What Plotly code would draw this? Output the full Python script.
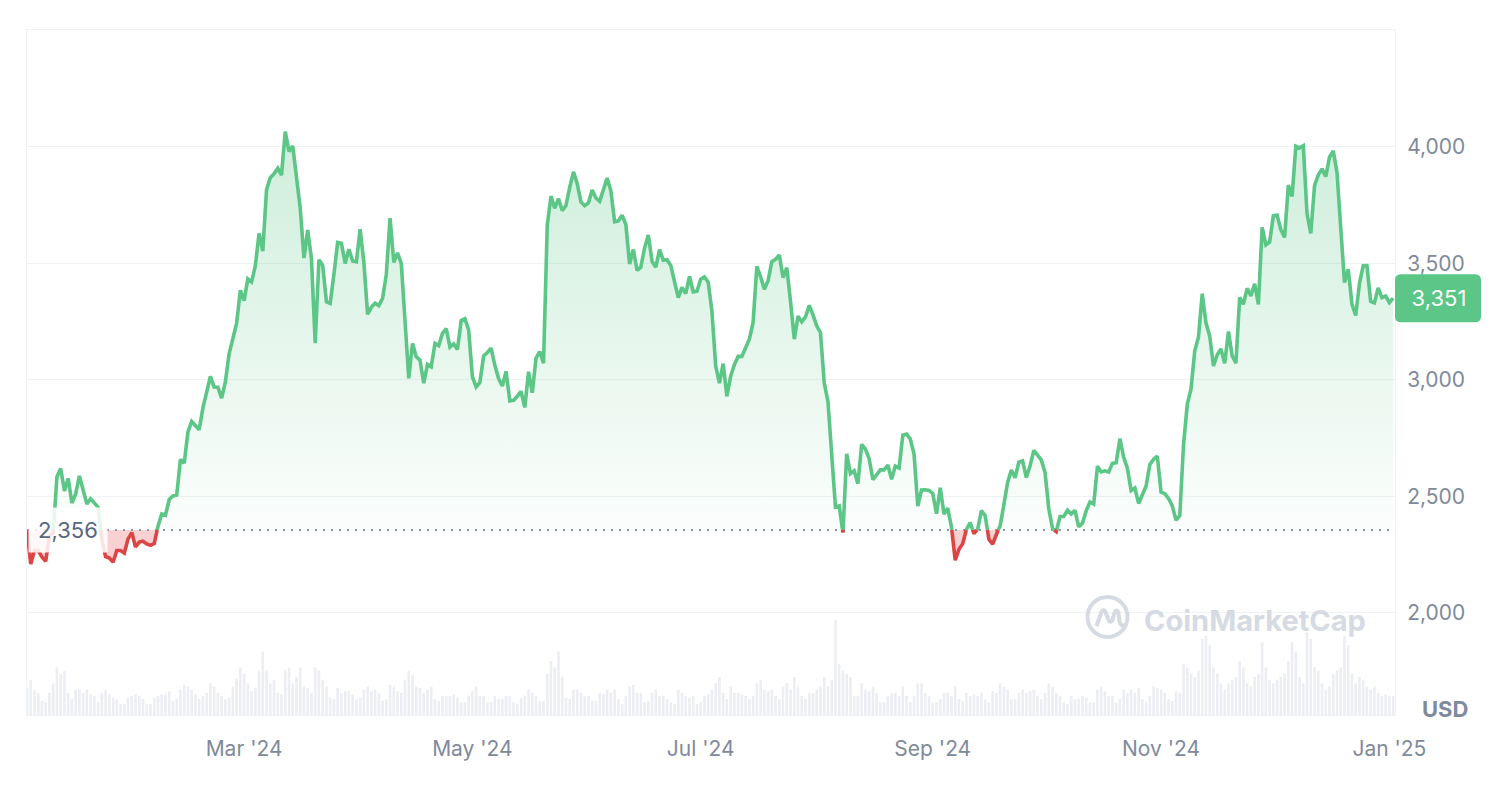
import numpy as np
import pandas as pd
import plotly.graph_objects as go

# ---------------- data (daily close, USD) ----------------
close_jan = [2356, 2210, 2269, 2268, 2240, 2222, 2331, 2344, 2585, 2620,
             2524, 2577, 2472, 2511, 2588, 2528, 2468, 2490, 2470, 2454,
             2311, 2242, 2236, 2218, 2268, 2268, 2257, 2318, 2345, 2283]
close_feb = [2304, 2308, 2296, 2290, 2298, 2372, 2425, 2420, 2487, 2502,
             2506, 2659, 2643, 2777, 2822, 2804, 2786, 2880, 2944, 3015,
             2970, 2969, 2922, 2992, 3112, 3178, 3243, 3385, 3340]
close_mar = [3434, 3421, 3489, 3629, 3553, 3817, 3868, 3885, 3909, 3879,
             4066, 3981, 4004, 3883, 3737, 3523, 3644, 3520, 3158, 3516,
             3492, 3336, 3329, 3454, 3590, 3587, 3500, 3561, 3511, 3507, 3647]
close_apr = [3505, 3282, 3312, 3330, 3319, 3350, 3453, 3695, 3505, 3545,
             3500, 3240, 3007, 3157, 3100, 3085, 2986, 3067, 3057, 3157,
             3148, 3200, 3220, 3141, 3155, 3131, 3255, 3263, 3215, 3013]
close_may = [2970, 2989, 3103, 3118, 3137, 3063, 3006, 2974, 3036, 2910,
             2913, 2930, 2951, 2882, 3035, 2945, 3094, 3122, 3072, 3664,
             3789, 3737, 3778, 3727, 3749, 3826, 3893, 3843, 3764, 3748, 3760]
close_jun = [3815, 3781, 3767, 3812, 3866, 3812, 3679, 3683, 3707, 3667,
             3498, 3560, 3470, 3484, 3566, 3622, 3509, 3484, 3559, 3514,
             3516, 3491, 3419, 3353, 3397, 3371, 3445, 3378, 3381, 3432]
close_jul = [3442, 3420, 3294, 3060, 2986, 3070, 2930, 3016, 3066, 3101,
             3101, 3134, 3175, 3247, 3488, 3443, 3389, 3426, 3508, 3518,
             3536, 3439, 3482, 3336, 3175, 3274, 3249, 3271, 3320, 3279, 3232]
close_aug = [3203, 2988, 2906, 2688, 2455, 2460, 2345, 2683, 2598, 2610,
             2555, 2723, 2703, 2662, 2572, 2594, 2614, 2614, 2635, 2574,
             2630, 2622, 2763, 2768, 2746, 2682, 2459, 2528, 2529, 2526, 2513]
close_sep = [2426, 2537, 2424, 2450, 2368, 2226, 2273, 2297, 2359, 2388,
             2340, 2360, 2439, 2417, 2316, 2295, 2341, 2373, 2465, 2560,
             2613, 2580, 2647, 2653, 2581, 2632, 2698, 2676, 2657, 2603]
close_oct = [2447, 2362, 2349, 2414, 2414, 2441, 2425, 2440, 2370, 2385,
             2439, 2476, 2467, 2630, 2605, 2610, 2605, 2642, 2645, 2748,
             2668, 2621, 2525, 2536, 2470, 2505, 2545, 2637, 2660, 2673, 2518]
close_nov = [2512, 2491, 2459, 2398, 2418, 2722, 2895, 2961, 3125, 3185,
             3370, 3244, 3188, 3060, 3108, 3133, 3071, 3208, 3103, 3072,
             3355, 3325, 3393, 3361, 3413, 3324, 3655, 3580, 3592, 3705]
close_dec = [3708, 3645, 3612, 3836, 3788, 4003, 3996, 4005, 3713, 3629,
             3834, 3880, 3906, 3873, 3956, 3983, 3891, 3626, 3418, 3475,
             3325, 3277, 3414, 3490, 3491, 3337, 3331, 3395, 3353, 3360, 3332]
close_jan25 = [3351]

# daily volume, billions USD
vol_jan = [17, 22, 16, 14, 9, 8, 14, 20, 30, 26, 28, 14, 10, 16, 16, 14, 16, 13, 12, 8,
           14, 16, 13, 11, 10, 7, 7, 11, 12, 13]
vol_feb = [12, 10, 7, 7, 11, 12, 13, 13, 15, 9, 10, 16, 19, 18, 16, 13, 10, 12, 14, 20,
           18, 14, 12, 10, 11, 18, 23, 30, 26]
vol_mar = [20, 15, 17, 28, 40, 28, 20, 22, 14, 13, 28, 30, 20, 24, 30, 18, 17, 14, 30, 28,
           22, 18, 11, 10, 17, 14, 15, 15, 13, 10, 11]
vol_apr = [16, 18, 15, 16, 14, 9, 10, 19, 18, 15, 14, 22, 28, 25, 18, 17, 14, 16, 18, 10,
           9, 12, 12, 12, 13, 11, 8, 8, 12, 15]
vol_may = [18, 12, 12, 8, 8, 12, 10, 10, 12, 12, 8, 7, 11, 12, 16, 14, 12, 9, 9, 26,
           34, 30, 40, 24, 11, 10, 16, 16, 14, 12, 12]
vol_jun = [9, 9, 14, 13, 16, 14, 16, 10, 7, 12, 18, 19, 14, 14, 8, 9, 14, 16, 12, 12,
           10, 8, 7, 16, 14, 12, 11, 12, 7, 8]
vol_jul = [12, 13, 16, 20, 24, 14, 10, 18, 14, 14, 13, 12, 10, 12, 20, 22, 16, 15, 16, 12,
           10, 18, 20, 16, 24, 18, 12, 10, 14, 14, 16]
vol_aug = [18, 24, 18, 22, 60, 32, 28, 26, 24, 12, 12, 20, 16, 15, 18, 14, 8, 8, 12, 14,
           14, 12, 18, 12, 8, 12, 20, 20, 14, 12, 8]
vol_sep = [8, 10, 14, 14, 12, 18, 10, 9, 14, 12, 13, 12, 14, 10, 8, 15, 14, 20, 18, 16,
           10, 10, 14, 16, 14, 15, 16, 12, 10, 14]
vol_oct = [20, 18, 14, 12, 8, 7, 12, 10, 10, 12, 11, 8, 8, 16, 18, 15, 12, 12, 8, 10,
           16, 14, 16, 14, 17, 10, 8, 12, 18, 17, 16]
vol_nov = [14, 10, 9, 15, 14, 32, 30, 26, 24, 28, 48, 50, 44, 30, 26, 20, 16, 20, 22, 24,
           34, 30, 20, 18, 24, 26, 46, 30, 22, 20]
vol_dec = [22, 24, 26, 34, 46, 40, 24, 20, 52, 48, 30, 28, 20, 16, 18, 26, 28, 30, 50, 44,
           26, 20, 24, 22, 18, 16, 18, 14, 12, 13, 12]
vol_jan25 = [12]

tick_dates = ["2024-03-01", "2024-05-01", "2024-07-01", "2024-09-01", "2024-11-01", "2025-01-01"]
tick_labels = ["Mar '24", "May '24", "Jul '24", "Sep '24", "Nov '24", "Jan '25"]
y_ticks = [2000, 2500, 3000, 3500, 4000]
first_close_day = "2024-01-02"

# ---------------- assemble ----------------
prices = (close_jan + close_feb + close_mar + close_apr + close_may + close_jun +
          close_jul + close_aug + close_sep + close_oct + close_nov + close_dec + close_jan25)
volumes = (vol_jan + vol_feb + vol_mar + vol_apr + vol_may + vol_jun + vol_jul +
           vol_aug + vol_sep + vol_oct + vol_nov + vol_dec + vol_jan25)

# closing prices are stamped at the end of their day
x_time = pd.date_range(first_close_day, periods=len(prices), freq="D") + pd.Timedelta(days=1)
base = prices[0]
last = prices[-1]

t = x_time.values.astype("datetime64[ns]").astype("int64")
xs, ys = [], []
for i, p in enumerate(prices):
    if i > 0:
        a, b = prices[i - 1], p
        if (a - base) * (b - base) < 0:
            f = (base - a) / (b - a)
            xs.append(int(t[i - 1] + f * (t[i] - t[i - 1])))
            ys.append(base)
    xs.append(int(t[i]))
    ys.append(p)
xd = pd.to_datetime(np.array(xs, dtype="int64"))
ys = np.array(ys, dtype=float)
green_line = np.where(ys >= base, ys, np.nan)
red_line = np.where(ys <= base, ys, np.nan)
up_area = np.maximum(ys, base)
dn_area = np.minimum(ys, base)
base_arr = np.full(len(ys), float(base))

GREEN = "#5bc686"
RED = "#dd4545"
GRID = "#eff2f5"
TICK = "#808a9d"
FONT = "Inter"

fig = go.Figure()

# volume bars
fig.add_trace(go.Bar(x=x_time, y=volumes, yaxis="y2", marker_color="#eceef3",
                     marker_line_width=0, hoverinfo="skip"))

# green area
fig.add_trace(go.Scatter(x=xd, y=base_arr, mode="lines", line=dict(width=0),
                         hoverinfo="skip"))
fig.add_trace(go.Scatter(x=xd, y=up_area, mode="lines", line=dict(width=0),
                         fill="tonexty",
                         fillgradient=dict(type="vertical",
                                           colorscale=[[0, "rgba(91,198,134,0.02)"],
                                                       [1, "rgba(91,198,134,0.30)"]]),
                         hoverinfo="skip"))
# red area
fig.add_trace(go.Scatter(x=xd, y=base_arr, mode="lines", line=dict(width=0),
                         hoverinfo="skip"))
fig.add_trace(go.Scatter(x=xd, y=dn_area, mode="lines", line=dict(width=0),
                         fill="tonexty", fillcolor="rgba(234,70,75,0.25)",
                         hoverinfo="skip"))

# baseline dotted
fig.add_trace(go.Scatter(x=[x_time[0], x_time[-1]], y=[base, base], mode="lines",
                         line=dict(color="#8f96a3", width=2, dash="2px,6px"),
                         hoverinfo="skip"))

# lines
fig.add_trace(go.Scatter(x=xd, y=green_line, mode="lines",
                         line=dict(color=GREEN, width=3.6), connectgaps=False))
fig.add_trace(go.Scatter(x=xd, y=red_line, mode="lines",
                         line=dict(color=RED, width=3.6), connectgaps=False))

# page offset of 8px: plot area lands at x 27..1395, y 30..715 on screen
L, T = 19, 22
W, H = 1505, 804
pw, ph = 1368, 685
R, B = W - L - pw, H - T - ph
OFF = 8


def px_x(px):
    return (px - OFF - L) / pw


def px_y(py):
    return (T + ph - (py - OFF)) / ph


fig.update_layout(
    width=W, height=H,
    margin=dict(l=L, r=R, t=T, b=B),
    plot_bgcolor="white", paper_bgcolor="white",
    showlegend=False, bargap=0.3,
    font=dict(family=FONT),
    xaxis=dict(type="date",
               range=[x_time[0], x_time[-1] + pd.Timedelta(hours=12)],
               tickvals=tick_dates, ticktext=tick_labels,
               showgrid=False, zeroline=False,
               showline=True, linecolor=GRID, linewidth=1, mirror=True,
               ticks="outside", ticklen=15, tickcolor="rgba(0,0,0,0)",
               tickfont=dict(family=FONT, size=21, color=TICK)),
    yaxis=dict(side="right", range=[1562, 4502], tickvals=y_ticks,
               tickformat=",", showgrid=True, gridcolor=GRID, gridwidth=1,
               zeroline=False, showline=True, linecolor=GRID, mirror=True,
               ticks="outside", ticklen=7, tickcolor="rgba(0,0,0,0)",
               tickfont=dict(family=FONT, size=21, color=TICK)),
    yaxis2=dict(overlaying="y", range=[0, 432], visible=False),
)

shapes = []
# current price tag (rounded)
shapes.append(dict(type="path", xref="paper", xsizemode="pixel", xanchor=1.0,
                   yref="y", ysizemode="pixel", yanchor=last,
                   path="M 6,-24 L 80,-24 Q 86,-24 86,-18 L 86,18 Q 86,24 80,24 "
                        "L 6,24 Q 0,24 0,18 L 0,-18 Q 0,-24 6,-24 Z",
                   fillcolor=GREEN, line=dict(width=0), layer="above"))
# watermark logo
lx, ly = px_x(1107.5), px_y(617)
shapes.append(dict(type="circle", xref="paper", yref="paper",
                   xsizemode="pixel", ysizemode="pixel", xanchor=lx, yanchor=ly,
                   x0=-20, x1=20, y0=-20, y1=20,
                   line=dict(color="#d6dae3", width=4)))
shapes.append(dict(type="path", xref="paper", yref="paper",
                   xsizemode="pixel", ysizemode="pixel", xanchor=lx, yanchor=ly,
                   path="M -11,-9 L -6,5 Q -4,9 -2,5 L 1,-3 Q 3,-7 5,-3 L 7,4 Q 9,9 11,4 L 12,-4 Q 13,-10 18,-8",
                   line=dict(color="#d6dae3", width=4)))
fig.update_layout(shapes=shapes)

annotations = [
    dict(x=px_x(68), y=base, xref="paper", yref="y", text=f"{base:,}",
         showarrow=False, width=78, height=44, bgcolor="rgba(255,255,255,0.85)",
         font=dict(family=FONT, size=22, color="#58667e"), xanchor="center",
         yanchor="middle", borderpad=0),
    dict(x=1.0, y=last, xref="paper", yref="y", text=f"{last:,}",
         showarrow=False, xanchor="left", yanchor="middle", width=86, height=48,
         font=dict(family=FONT, size=22, color="white"), borderpad=0),
    dict(x=px_x(1445), y=px_y(709), xref="paper", yref="paper", text="<b>USD</b>",
         showarrow=False, xanchor="center", yanchor="middle",
         font=dict(family=FONT, size=22, color=TICK)),
    dict(x=px_x(1255), y=px_y(620), xref="paper", yref="paper",
         text="<b>CoinMarketCap</b>", showarrow=False, xanchor="center",
         yanchor="middle", font=dict(family=FONT, size=29, color="#d6dae3")),
]
fig.update_layout(annotations=annotations)

fig.write_html("out.html")
